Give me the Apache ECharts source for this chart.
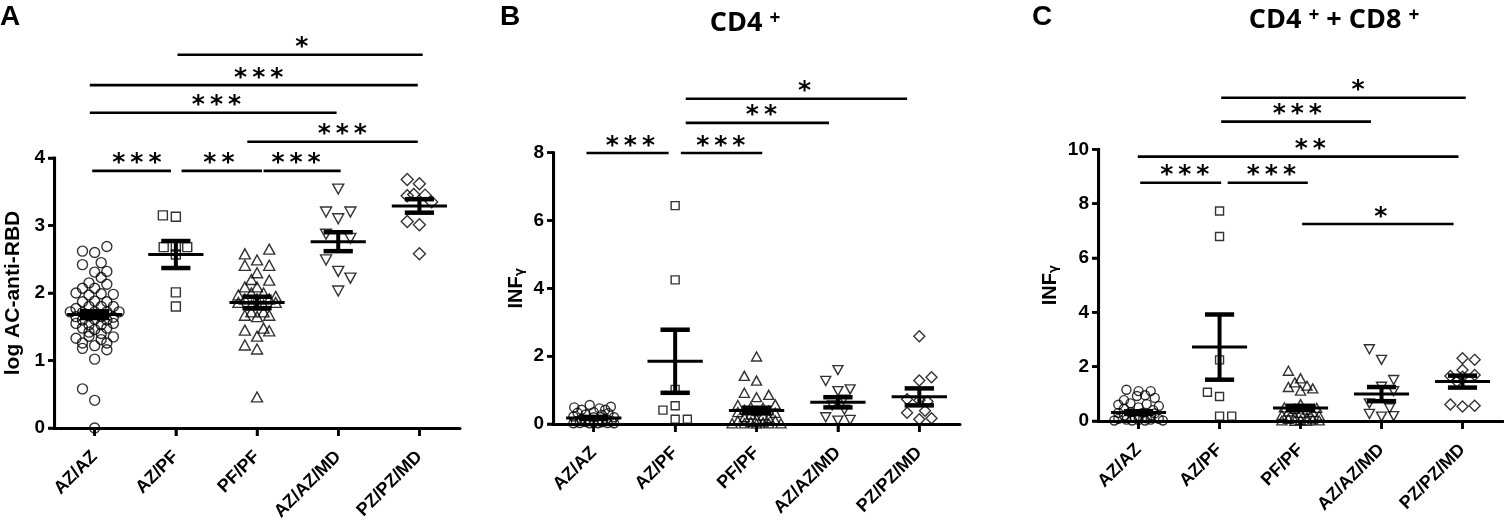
<!DOCTYPE html>
<html>
<head>
<meta charset="utf-8">
<script src="https://cdn.jsdelivr.net/npm/echarts@6/dist/echarts.min.js"></script>
<style>
  html, body { margin: 0; padding: 0; background: #fff; }
  #chart { width: 1504px; height: 528px; }
</style>
</head>
<body>
<div id="chart"></div>
<script>
const cats = ['AZ/AZ', 'AZ/PF', 'PF/PF', 'AZ/AZ/MD', 'PZ/PZ/MD'];

// each point: [offset within group (category units), value]
// panel A: log AC-anti-RBD
const aAzAz = [[-0.15,2.62],[0,2.60],[0.15,2.69],[-0.15,2.42],[0.08,2.45],[0,2.31],[0.15,2.32],
  [0.08,2.23],[-0.07,2.15],[0.15,2.13],[-0.15,2.07],[0,2.07],[-0.23,2.00],[0.23,1.98],[-0.07,1.97],
  [0.08,1.99],[-0.15,1.87],[0,1.88],[0.15,1.87],[-0.23,1.77],[0.23,1.80],[-0.07,1.80],[0.08,1.80],
  [-0.3,1.72],[-0.15,1.71],[0,1.72],[0.15,1.72],[0.3,1.72],[-0.23,1.65],[-0.07,1.66],[0.08,1.65],
  [0.23,1.64],[-0.15,1.60],[0,1.61],[0.15,1.60],[-0.23,1.55],[-0.07,1.53],[0.08,1.53],[0.23,1.55],
  [-0.15,1.48],[0,1.46],[0.15,1.48],[-0.07,1.42],[0.08,1.40],[-0.23,1.33],[-0.07,1.36],[0.08,1.31],
  [0.23,1.35],[-0.15,1.26],[0,1.22],[0.15,1.26],[-0.15,1.18],[0.15,1.16],[0,1.02],[-0.15,0.58],
  [0,0.41],[0,0.0]];
const aAzPf = [[-0.16,3.15],[0,3.13],[-0.15,2.68],[0,2.69],[0.14,2.68],[0,2.57],[0,2.01],[0,1.80]];
const aPfPf = [[0.15,2.65],[-0.15,2.58],[0,2.49],[-0.15,2.41],[0.15,2.41],[0,2.30],[-0.07,2.20],
  [0.15,2.19],[-0.15,2.09],[0,2.09],[-0.23,1.97],[-0.07,2.00],[0.08,2.00],[0.23,1.95],[-0.23,1.86],
  [-0.15,1.91],[0,1.91],[0.15,1.91],[0.23,1.86],[-0.07,1.82],[0.08,1.82],[-0.07,1.72],[0.08,1.72],
  [-0.15,1.67],[0,1.65],[0.15,1.67],[-0.15,1.45],[0.08,1.48],[0.15,1.44],[0,1.36],[-0.15,1.23],
  [0,1.17],[0,0.46]];
const aAzAzMd = [[0,3.54],[-0.15,3.20],[0.15,3.20],[0,3.10],[-0.15,2.87],[0.15,2.81],[-0.15,2.49],
  [0,2.32],[0.15,2.22],[0,2.03]];
const aPzPzMd = [[-0.15,3.68],[0,3.62],[-0.15,3.44],[-0.07,3.46],[0.07,3.45],[0.15,3.35],
  [-0.15,3.06],[0,3.01],[0,2.58]];
const aMeans = [1.68, 2.57, 1.86, 2.76, 3.29];
const aSems = [0.05, 0.20, 0.085, 0.14, 0.10];
const aTicks = [0, 1, 2, 3, 4];
// significance bars: [from, to, level, star position, stars] (category index units)
const aSig = [[-0.03,0.94,3.81,0.52,'***'],[1.07,2.06,3.81,1.53,'**'],[2.08,3.03,3.81,2.48,'***'],
  [1.88,3.98,4.24,3.05,'***'],[-0.06,2.98,4.67,1.50,'***'],[-0.06,3.98,5.08,2.02,'***'],
  [1.02,4.04,5.53,2.55,'*']];

// panel B: CD4+ INFγ
const bAzAz = [[-0.24,0.49],[-0.05,0.56],[0.07,0.46],[0.21,0.51],[-0.15,0.42],[0.14,0.42],
  [-0.2,0.33],[0,0.35],[0.18,0.32],[-0.1,0.28],[0.1,0.27],[-0.25,0.22],[0.25,0.20],[0,0.20],
  [-0.15,0.15],[0.15,0.15],[-0.05,0.12],[0.05,0.10],[-0.22,0.08],[0.22,0.08],[-0.1,0.06],
  [0.1,0.05],[0,0.04],[-0.17,0.03],[0.17,0.03],[-0.05,0.02],[0.05,0.02],[-0.25,0.02],[0.25,0.02]];
const bAzPf = [[0,6.44],[0,4.25],[0,1.02],[-0.15,0.41],[0,0.54],[0,0.14],[0.15,0.14]];
const bPfPf = [[0,1.99],[-0.15,1.42],[0,1.28],[-0.15,0.92],[0.15,0.86],[0,0.79],[-0.23,0.56],
  [0.23,0.58],[-0.07,0.50],[0.08,0.48],[-0.15,0.42],[0.15,0.40],[0,0.38],[-0.23,0.35],[0.23,0.33],
  [-0.07,0.28],[0.08,0.25],[-0.15,0.20],[0.15,0.18],[0,0.15],[-0.23,0.10],[0.23,0.10],[-0.07,0.06],
  [0.08,0.05],[-0.15,0.02],[0.15,0.02],[0,0.01],[-0.3,0.02],[0.3,0.02]];
const bAzAzMd = [[0,1.59],[-0.15,1.27],[0,0.97],[0.15,1.02],[0.07,0.72],[-0.07,0.55],[0.08,0.42],
  [-0.15,0.20],[0,0.10],[0.15,0.12]];
const bPzPzMd = [[0,2.59],[0.15,1.38],[0,1.28],[-0.15,0.73],[0,0.70],[0.1,0.66],[-0.15,0.33],
  [0.07,0.39],[0,0.14],[0.15,0.17]];
const bMeans = [0.18, 1.85, 0.40, 0.64, 0.80];
const bSems = [0.03, 0.93, 0.08, 0.15, 0.25];
const bTicks = [0, 2, 4, 6, 8];
const bSig = [[-0.09,0.92,7.99,0.45,'***'],[1.07,2.07,7.99,1.56,'***'],[1.13,2.89,8.88,2.06,'**'],
  [1.13,3.85,9.59,2.59,'*']];

// panel C: CD4+ + CD8+ INFγ
const cAzAz = [[-0.15,1.15],[0,1.10],[0.15,1.10],[-0.18,0.77],[-0.02,0.92],[0.2,0.85],[0.08,0.95],
  [-0.25,0.60],[-0.1,0.65],[0.1,0.62],[0.25,0.55],[-0.18,0.45],[0,0.50],[0.18,0.40],[-0.25,0.30],
  [-0.1,0.32],[0.05,0.30],[0.2,0.28],[-0.18,0.20],[0,0.18],[0.15,0.20],[-0.05,0.12],[0.1,0.10],
  [-0.25,0.08],[0.25,0.08],[-0.15,0.05],[0.15,0.05],[0,0.04],[-0.08,0.02],[0.08,0.02],[-0.3,0.02],
  [0.3,0.02]];
const cAzPf = [[0,7.73],[0,6.79],[0,2.25],[-0.15,1.06],[0,0.90],[0,0.18],[0.15,0.18]];
const cPfPf = [[-0.15,1.85],[0,1.57],[-0.07,1.42],[-0.15,1.25],[0.08,1.30],[0.15,1.20],[0,1.12],
  [0,0.62],[-0.2,0.50],[0.2,0.48],[-0.07,0.45],[0.08,0.42],[-0.15,0.35],[0.15,0.33],[0,0.30],
  [-0.23,0.22],[0.23,0.20],[-0.07,0.15],[0.08,0.12],[-0.15,0.08],[0.15,0.06],[0,0.04],[-0.23,0.02],
  [0.23,0.02],[-0.07,0.01],[0.08,0.01]];
const cAzAzMd = [[-0.15,2.64],[0,2.25],[0.15,1.51],[0,1.26],[0.15,1.10],[-0.15,0.65],[0.1,0.47],
  [-0.15,0.26],[0,0.16],[0.15,0.18]];
const cPzPzMd = [[0,2.31],[0.15,2.25],[0,1.88],[-0.15,1.66],[0.15,1.69],[0,1.63],[-0.07,1.45],
  [-0.15,0.61],[0,0.53],[0.15,0.56]];
const cMeans = [0.31, 2.72, 0.48, 0.99, 1.45];
const cSems = [0.05, 1.20, 0.08, 0.26, 0.22];
const cTicks = [0, 2, 4, 6, 8, 10];
const cSig = [[0.02,1.02,8.77,0.57,'***'],[1.10,2.09,8.77,1.64,'***'],[-0.01,3.95,9.73,2.12,'**'],
  [2.02,3.89,7.25,2.99,'*'],[1.02,2.87,11.02,1.96,'***'],[1.02,4.04,11.90,2.71,'*']];

const symbols = ['circle', 'rect', 'triangle', 'triangle', 'diamond'];
const rotations = [0, 0, 0, 180, 0];

const panels = [
  { groups: [aAzAz, aAzPf, aPfPf, aAzAzMd, aPzPzMd], means: aMeans, sems: aSems, sig: aSig,
    ticks: aTicks, name: 'log AC-anti-RBD', nameGap: 30,
    grid: { left: 54, top: 158, width: 406, height: 270 },
    sizes: [10, 9, [11, 10], [11, 10], 12] },
  { groups: [bAzAz, bAzPf, bPfPf, bAzAzMd, bPzPzMd], means: bMeans, sems: bSems, sig: bSig,
    ticks: bTicks, name: '{n|INF}{g|γ}', nameGap: 27,
    grid: { left: 553, top: 152.7, width: 407, height: 271.3 },
    sizes: [9, 8, [10, 9], [10, 9], 11] },
  { groups: [cAzAz, cAzPf, cPfPf, cAzAzMd, cPzPzMd], means: cMeans, sems: cSems, sig: cSig,
    ticks: cTicks, name: '{n|INF}{g|γ}', nameGap: 38,
    grid: { left: 1098, top: 149.3, width: 405, height: 271.7 },
    sizes: [9, 8, [10, 9], [10, 9], 11] }
];

const FONT = 'Liberation Sans';
const STARS = { '*': '*', '**': '*\u2009*', '***': '*\u2009*\u2009*' };
// hidden value x axis: category i is centred at i + 0.5, zero is the y axis
const C0 = 0.5;

const grids = [], xAxes = [], yAxes = [], series = [];
const ln = (x1, y1, x2, y2, lw) => ({ type: 'line', shape: { x1, y1, x2, y2 },
  style: { stroke: '#000', lineWidth: lw } });

panels.forEach((p, pi) => {
  const yMax = p.ticks[p.ticks.length - 1];
  grids.push(p.grid);
  xAxes.push({
    type: 'category', gridIndex: pi, data: cats, boundaryGap: true,
    axisLine: { show: true, lineStyle: { color: '#000', width: 3 } },
    axisTick: { show: true, alignWithLabel: true, length: 8, lineStyle: { color: '#000', width: 2.5 } },
    axisLabel: { interval: 0, rotate: 45, margin: 26, color: '#000', fontFamily: FONT,
      fontWeight: 'bold', fontSize: 18 },
    splitLine: { show: false }
  });
  xAxes.push({ type: 'value', gridIndex: pi, min: -0.001, max: 5, show: false });
  yAxes.push({
    type: 'value', gridIndex: pi, min: 0, max: yMax, interval: p.ticks[1] - p.ticks[0],
    name: p.name, nameLocation: 'middle', nameRotate: 90, nameGap: p.nameGap,
    nameTextStyle: { color: '#000', fontFamily: FONT, fontWeight: 'bold', fontSize: 21,
      rich: { n: { fontFamily: FONT, fontWeight: 'bold', fontSize: 20, color: '#000' },
              g: { fontFamily: 'DejaVu Sans', fontSize: 12, color: '#000', verticalAlign: 'bottom' } } },
    axisLine: { show: true, lineStyle: { color: '#000', width: 3 } },
    axisTick: { show: true, length: 6, lineStyle: { color: '#000', width: 2.5 } },
    axisLabel: { margin: 9, color: '#000', fontFamily: FONT, fontWeight: 'bold', fontSize: 19 },
    splitLine: { show: false }
  });
  const xi = pi * 2 + 1;
  // x ticks under each category
  series.push({
    type: 'custom', xAxisIndex: xi, yAxisIndex: pi, z: 6, silent: true, clip: false,
    encode: { x: 0, y: 1 },
    data: cats.map((c, i) => [i + C0, 0]),
    renderItem: (params, api) => {
      const c = api.coord([api.value(0), 0]);
      const kids = [ln(c[0], c[1], c[0], c[1] + 8, 2.5)];
      if (params.dataIndex === 0) {
        // y axis line and ticks through the same scales
        const base = api.coord([0, 0]), top = api.coord([0, yMax]);
        kids.push(ln(base[0] + 0.5, base[1] + 1.5, top[0] + 0.5, top[1] - 1.2, 3));
        p.ticks.forEach(t => {
          const q = api.coord([0, t]);
          kids.push(ln(q[0] - 6, q[1], q[0] + 0.5, q[1], 2.5));
        });
      }
      return { type: 'group', children: kids };
    }
  });
  p.groups.forEach((g, gi) => {
    series.push({
      type: 'scatter', xAxisIndex: xi, yAxisIndex: pi, clip: false,
      symbol: symbols[gi], symbolRotate: rotations[gi], symbolSize: p.sizes[gi],
      itemStyle: { color: 'rgba(255,255,255,0)', borderColor: '#000', borderWidth: 1.4 },
      data: g.map(d => [gi + C0 + d[0], d[1]]),
      silent: true, z: 2
    });
  });
  // mean line with SEM bars
  series.push({
    type: 'custom', xAxisIndex: xi, yAxisIndex: pi, z: 3, silent: true,
    encode: { x: 0, y: 1 },
    data: p.means.map((m, i) => [i + C0, m, p.sems[i]]),
    renderItem: (params, api) => {
      const x = api.value(0), m = api.value(1), s = api.value(2);
      const c = api.coord([x, m]), hi = api.coord([x, m + s]), lo = api.coord([x, m - s]);
      const w = api.size([1, 0])[0];
      return { type: 'group', children: [
        ln(c[0] - 0.34 * w, c[1], c[0] + 0.34 * w, c[1], 3),
        ln(hi[0], hi[1], lo[0], lo[1], 4),
        ln(hi[0] - 0.18 * w, hi[1], hi[0] + 0.18 * w, hi[1], 4.5),
        ln(lo[0] - 0.18 * w, lo[1], lo[0] + 0.18 * w, lo[1], 4.5)
      ] };
    }
  });
  // significance bars and stars
  series.push({
    type: 'custom', xAxisIndex: xi, yAxisIndex: pi, z: 4, silent: true, clip: false,
    encode: { x: [0, 1], y: 2 },
    data: p.sig.map(s => [s[0] + C0, s[1] + C0, s[2], s[3] + C0]),
    renderItem: (params, api) => {
      const a = api.coord([api.value(0), api.value(2)]);
      const b = api.coord([api.value(1), api.value(2)]);
      const t = api.coord([api.value(3), api.value(2)]);
      return { type: 'group', children: [
        ln(a[0], a[1], b[0], b[1], 2.6),
        { type: 'text', x: t[0], y: t[1] - 7,
          style: { text: STARS[p.sig[params.dataIndex][4]], fill: '#000',
            font: 'bold 25px "DejaVu Sans"', textAlign: 'center', textVerticalAlign: 'middle' } }
      ] };
    }
  });
});

const titleRich = {
  m: { fontFamily: 'Open Sans', fontWeight: 'bold', fontSize: 27, color: '#000' },
  s: { fontFamily: 'Open Sans', fontWeight: 'bold', fontSize: 19, color: '#000', verticalAlign: 'top' }
};

const chart = echarts.init(document.getElementById('chart'), null, { renderer: 'canvas' });
chart.setOption({
  backgroundColor: '#fff',
  animation: false,
  grid: grids,
  xAxis: xAxes,
  yAxis: yAxes,
  series: series,
  graphic: [
    { type: 'text', x: 0, y: 3, style: { text: 'A', font: 'bold 28px "Liberation Sans"', fill: '#000' } },
    { type: 'text', x: 500, y: 3, style: { text: 'B', font: 'bold 28px "Liberation Sans"', fill: '#000' } },
    { type: 'text', x: 1032, y: 3, style: { text: 'C', font: 'bold 28px "Liberation Sans"', fill: '#000' } },
    { type: 'text', x: 745, y: 23, style: { text: '{m|CD4 }{s|+}', rich: titleRich,
      textAlign: 'center', textVerticalAlign: 'middle' } },
    { type: 'text', x: 1334, y: 20, style: { text: '{m|CD4 }{s|+}{m| + CD8 }{s|+}', rich: titleRich,
      textAlign: 'center', textVerticalAlign: 'middle' } }
  ]
});
</script>
</body>
</html>
